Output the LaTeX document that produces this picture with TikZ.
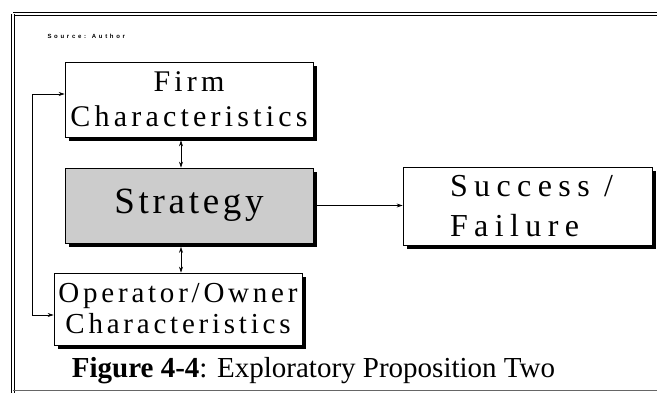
\documentclass[tikz,border=0pt]{standalone}
\usepackage{fontspec}
\setmainfont{Liberation Serif}
\newfontfamily\srcfont[LetterSpace=45]{Liberation Sans}
\usetikzlibrary{arrows.meta,calc}

\tikzset{
  box/.style={draw=black, line width=0.7pt, fill=white, inner sep=0pt,
    minimum width=248pt, align=center},
  shadowed/.style={preaction={fill=black, transform canvas={xshift=3.5pt,yshift=-3.5pt}}},
  link/.style={line width=0.6pt, -{Stealth[length=6pt,width=4pt]}},
  twoway/.style={line width=0.6pt, {Stealth[length=6pt,width=4pt]}-{Stealth[length=6pt,width=4pt]}},
}

\begin{document}
\begin{tikzpicture}[x=1pt,y=-1pt]
  \useasboundingbox (0,0) rectangle (657,392);

  % outer frame
  \draw[line width=1.2pt, double, double distance=1.6pt] (13,14) -- (700,14);
  \draw[line width=1.2pt, double, double distance=1.6pt] (13,14) -- (13,400);
  \draw[line width=1pt, black!60] (13,390) -- (700,390);

  \node[font=\srcfont\bfseries\fontsize{6}{7}\selectfont, anchor=west] (src) at (44,36) {Source: Author};

  % boxes
  \node[box, shadowed, minimum height=75pt,
    font=\fontsize{30}{35}\selectfont\addfontfeature{LetterSpace=14}] (firm) at (189,99.5)
    {Firm\\Characteristics};
  \node[box, shadowed, fill=black!20, minimum height=75pt,
    font=\fontsize{37}{40}\selectfont\addfontfeature{LetterSpace=10}] (strat) at (189,205.5)
    {Strategy};
  \node[box, shadowed, minimum width=249pt, minimum height=78pt, align=left,
    font=\fontsize{32}{40}\selectfont\addfontfeature{LetterSpace=20}] (succ) at (527.5,206)
    {\hspace*{8pt}Success /\\\hspace*{8pt}Failure};
  \node[box, shadowed, minimum height=72pt,
    font=\fontsize{29}{31}\selectfont\addfontfeature{LetterSpace=13}] (oper) at (178,309)
    {Operator/Owner\\Characteristics};

  % connectors
  \draw[twoway, shorten <=3pt] ([xshift=-8pt]firm.south) -- ([xshift=-8pt]strat.north);
  \draw[twoway, shorten <=3.5pt] ([xshift=-8pt]strat.south) -- ([xshift=-8pt]strat.south |- oper.north);
  \draw[link, shorten <=3.5pt] (strat.east) -- (succ.west |- strat.east);
  \draw[twoway] ([yshift=5.5pt]firm.west) -- ++(-32,0) |- ([yshift=-6pt]oper.west);

  % caption
  \node[font=\fontsize{29}{32}\selectfont, anchor=base] (cap) at (313.5,377)
    {\textbf{Figure 4-4}: Exploratory Proposition Two};
\end{tikzpicture}
\end{document}
